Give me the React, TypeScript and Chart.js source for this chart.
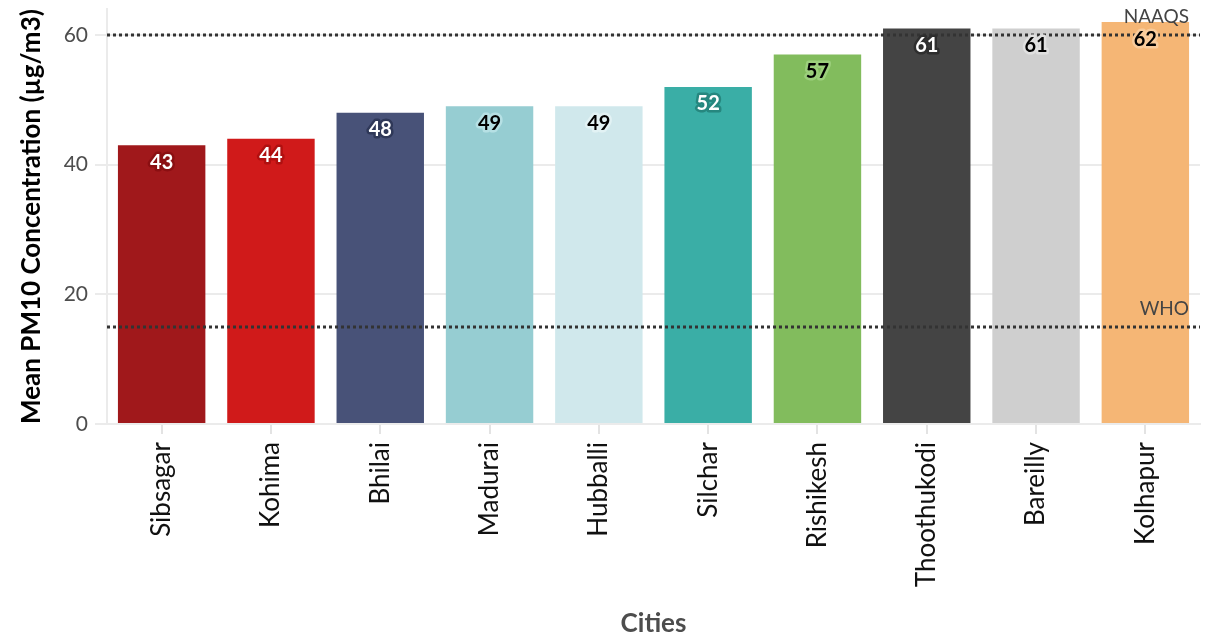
import React, { useEffect, useRef } from "react";
import { Chart, registerables } from "chart.js";

Chart.register(...registerables);

const cities = ["Sibsagar", "Kohima", "Bhilai", "Madurai", "Hubballi", "Silchar", "Rishikesh", "Thoothukodi", "Bareilly", "Kolhapur"];
const pm10 = [43, 44, 48, 49, 49, 52, 57, 61, 61, 62];
const yTicks = [0, 20, 40, 60];
const thresholdNames = ["NAAQS", "WHO"];
const thresholdValues = [60, 15];

const barColors = ["#A0181B", "#D01A1A", "#485278", "#96CDD2", "#D0E8EC", "#3AAEA6", "#82BC5D", "#444444", "#CFCFCF", "#F5B675"];
const labelText = ["#ffffff", "#ffffff", "#ffffff", "#000000", "#000000", "#ffffff", "#000000", "#ffffff", "#000000", "#000000"];
const labelHalo = ["#8a0f12", "#b01010", "#2f3858", "#b6e0e4", "#e2f2f4", "#26877f", "#9ccf7c", "#2e2e2e", "#e0e0e0", "#f9cc9c"];

const FONT = "Lato";

const overlayPlugin = {
  id: "overlay",
  afterDatasetsDraw(chart: any) {
    const { ctx, chartArea, scales } = chart;
    const y = scales.y;
    ctx.save();
    // threshold dotted lines
    ctx.strokeStyle = "#333333";
    ctx.lineWidth = 3;
    ctx.setLineDash([3, 3]);
    thresholdValues.forEach((v) => {
      const py = Math.round(y.getPixelForValue(v));
      ctx.beginPath();
      ctx.moveTo(chartArea.left, py);
      ctx.lineTo(chartArea.right, py);
      ctx.stroke();
    });
    ctx.setLineDash([]);
    // value labels
    const meta = chart.getDatasetMeta(0);
    ctx.font = `bold 20px ${FONT}`;
    ctx.textAlign = "center";
    ctx.textBaseline = "middle";
    ctx.lineJoin = "round";
    meta.data.forEach((bar: any, i: number) => {
      const tx = bar.x;
      const ty = bar.y + 17;
      ctx.lineWidth = 5;
      ctx.strokeStyle = labelHalo[i];
      ctx.strokeText(String(pm10[i]), tx, ty);
      ctx.fillStyle = labelText[i];
      ctx.fillText(String(pm10[i]), tx, ty);
    });
    // threshold labels
    const lastBar = meta.data[meta.data.length - 1];
    const rightX = lastBar.x + lastBar.width / 2;
    ctx.font = `19px ${FONT}`;
    ctx.fillStyle = "#444444";
    ctx.textAlign = "right";
    ctx.textBaseline = "middle";
    thresholdNames.forEach((n, i) => {
      const py = y.getPixelForValue(thresholdValues[i]);
      ctx.fillText(n, rightX, py - 18);
    });
    ctx.restore();
  },
};

export default function App() {
  const ref = useRef<HTMLCanvasElement>(null);
  useEffect(() => {
    const chart = new Chart(ref.current as HTMLCanvasElement, {
      type: "bar",
      data: {
        labels: cities,
        datasets: [
          {
            data: pm10,
            backgroundColor: barColors,
            borderWidth: 0,
            barPercentage: 0.8,
            categoryPercentage: 1,
          },
        ],
      },
      options: {
        responsive: false,
        animation: false,
        devicePixelRatio: 1,
        layout: { padding: { left: 0, right: 11, top: 3, bottom: 0 } },
        plugins: { legend: { display: false }, tooltip: { enabled: false } },
        scales: {
          x: {
            offset: true,
            grid: { display: true, drawOnChartArea: false, drawTicks: true, tickLength: 10, offset: false, color: "#e3e3e3", lineWidth: 2 },
            border: { display: true, color: "#ebebeb", width: 2 },
            ticks: {
              color: "#111111",
              font: { family: FONT, size: 26 },
              maxRotation: 90,
              minRotation: 90,
              padding: 8,
              autoSkip: false,
            },
            title: {
              display: true,
              text: "Cities",
              color: "#4d4d4d",
              font: { family: FONT, size: 26, weight: "bold" },
              padding: { top: 0, bottom: 0 },
            },
            afterFit: (s: any) => {
              s.height = 215;
            },
          },
          y: {
            min: 0,
            max: 64,
            afterBuildTicks: (s: any) => {
              s.ticks = yTicks.map((v) => ({ value: v }));
            },
            grid: { color: "#ebebeb", lineWidth: 2, tickLength: 12, drawTicks: true },
            border: { display: true, color: "#ebebeb", width: 2 },
            ticks: {
              color: "#4d4d4d",
              font: { family: FONT, size: 21, lineHeight: 0.2 },
              padding: 7,
              autoSkip: false,
            },
            title: {
              display: true,
              text: "Mean PM10 Concentration (µg/m3)",
              color: "#000000",
              font: { family: FONT, size: 26, weight: "bold" },
              padding: { top: 16, bottom: 0 },
            },
            afterFit: (s: any) => {
              s.width = 107;
            },
          },
        },
      },
      plugins: [overlayPlugin],
    });
    return () => chart.destroy();
  }, []);
  return (
    <div style={{ position: "fixed", left: 0, top: 0, width: 1211, height: 639, background: "#fff" }}>
      <canvas ref={ref} width={1211} height={639} style={{ display: "block" }} />
    </div>
  );
}
